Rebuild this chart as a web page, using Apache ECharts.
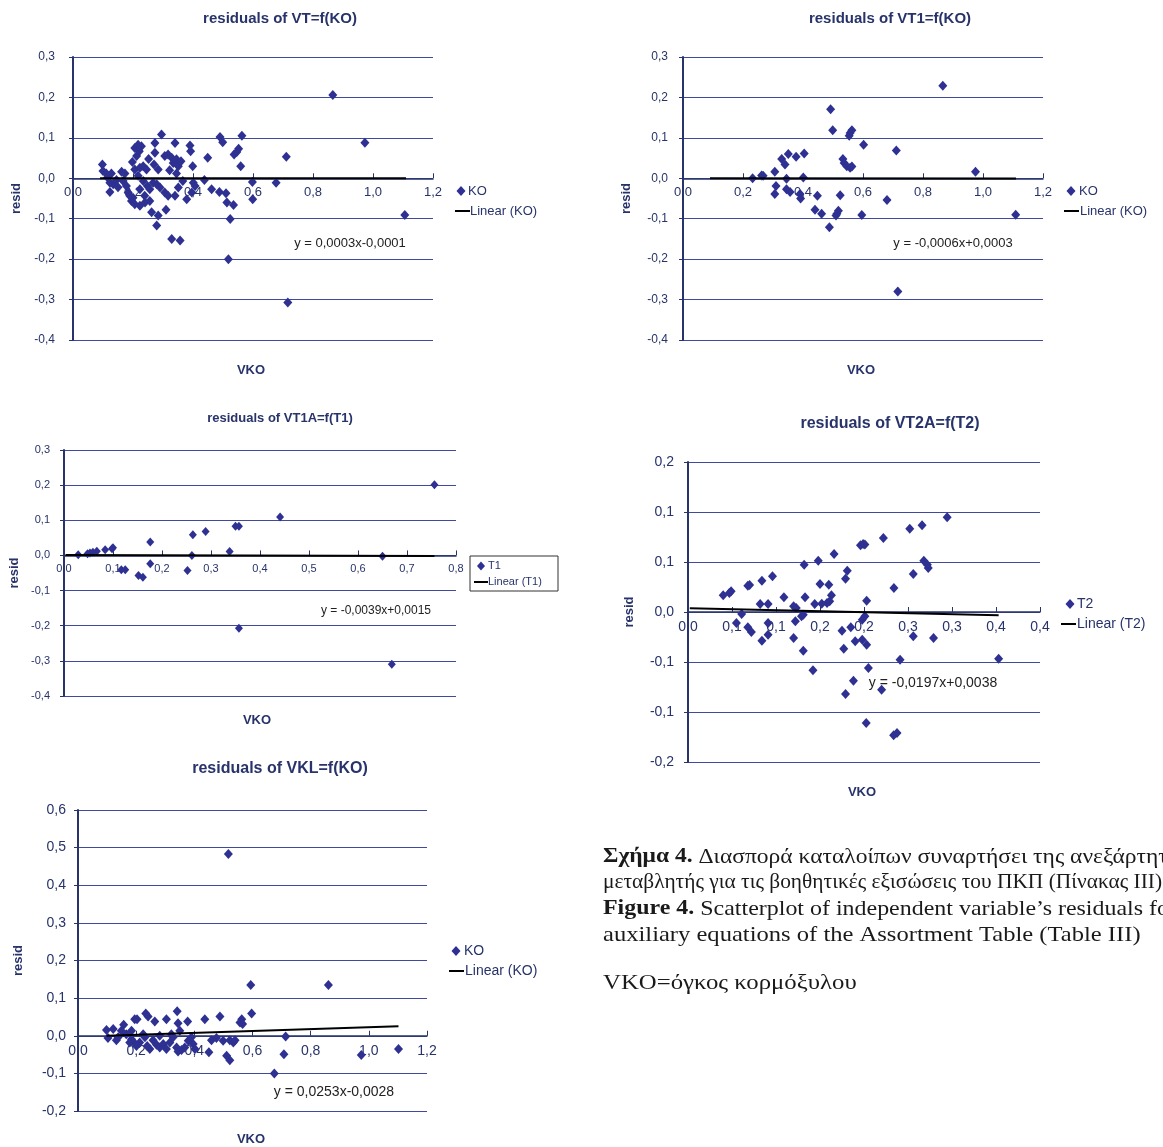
<!DOCTYPE html>
<html>
<head>
<meta charset="utf-8">
<script src="https://cdn.jsdelivr.net/npm/echarts@6/dist/echarts.min.js"></script>
<style>
  html, body { margin: 0; padding: 0; background: #ffffff; }
  #chart { width: 1163px; height: 1147px; }
</style>
</head>
<body>
<div id="chart"></div>
<script>
// ---------- residuals (x = independent variable, y = residual) ----------
const vtKO = [
  [0.098,0.034],[0.100,0.018],[0.111,0.012],[0.128,0.012],[0.123,-0.011],[0.134,-0.015],[0.123,-0.034],
  [0.162,0.016],[0.173,0.012],[0.167,-0.007],[0.178,-0.019],[0.184,-0.035],[0.189,-0.043],[0.195,-0.056],
  [0.206,-0.064],[0.223,-0.068],[0.206,0.075],[0.217,0.083],[0.228,0.079],[0.212,0.055],[0.221,0.067],
  [0.206,0.022],[0.223,0.026],[0.234,0.030],[0.245,0.022],[0.217,0.006],[0.234,-0.007],[0.248,-0.019],
  [0.256,-0.027],[0.267,-0.011],[0.279,-0.015],[0.239,-0.043],[0.223,-0.027],[0.256,-0.056],[0.262,-0.084],
  [0.284,-0.092],[0.279,-0.117],[0.310,-0.078],[0.273,0.087],[0.273,0.063],[0.270,0.034],[0.284,0.022],
  [0.295,0.108],[0.306,0.055],[0.317,0.059],[0.329,0.051],[0.334,0.038],[0.345,0.047],[0.340,0.087],
  [0.351,0.030],[0.345,0.012],[0.306,-0.035],[0.317,-0.043],[0.340,-0.043],[0.351,-0.023],[0.290,-0.023],
  [0.329,-0.150],[0.357,-0.154],[0.366,-0.007],[0.379,-0.052],[0.390,0.081],[0.392,0.067],[0.399,0.030],
  [0.401,-0.011],[0.407,-0.019],[0.396,-0.035],[0.438,-0.004],[0.449,0.051],[0.462,-0.027],[0.488,-0.034],
  [0.510,-0.037],[0.513,-0.060],[0.535,-0.066],[0.490,0.102],[0.499,0.089],[0.524,-0.101],[0.518,-0.200],
  [0.537,0.059],[0.546,0.065],[0.552,0.073],[0.559,0.030],[0.563,0.105],[0.598,-0.009],[0.599,-0.052],
  [0.677,-0.011],[0.711,0.053],[0.716,-0.307],[0.866,0.206],[0.973,0.088],[1.106,-0.091],[0.145,-0.004],
  [0.115,0.002],[0.198,0.040],[0.252,0.048],[0.322,0.020],[0.360,0.042],[0.200,-0.048],[0.150,-0.022],
  [0.240,-0.060]
];

const vt1KO = [
  [0.866,0.229],[0.492,0.171],[0.499,0.119],[0.563,0.119],[0.557,0.112],[0.554,0.105],[0.602,0.083],
  [0.711,0.069],[0.975,0.016],[1.109,-0.090],[0.716,-0.280],[0.680,-0.054],[0.596,-0.091],[0.524,-0.042],
  [0.518,-0.080],[0.513,-0.088],[0.510,-0.092],[0.488,-0.121],[0.462,-0.088],[0.440,-0.078],[0.448,-0.043],
  [0.533,0.048],[0.537,0.038],[0.546,0.030],[0.557,0.026],[0.563,0.029],[0.404,0.061],[0.377,0.053],
  [0.351,0.060],[0.329,0.048],[0.340,0.034],[0.306,0.016],[0.262,0.007],[0.232,0.000],[0.267,0.006],
  [0.345,-0.001],[0.401,0.002],[0.310,-0.019],[0.306,-0.039],[0.345,-0.027],[0.357,-0.034],[0.390,-0.039],
  [0.392,-0.050]
];

const vt1aT1 = [
  [0.029,0.002],[0.048,0.005],[0.053,0.007],[0.059,0.009],[0.067,0.012],[0.084,0.016],[0.098,0.019],
  [0.100,0.022],[0.117,-0.041],[0.125,-0.041],[0.152,-0.057],[0.161,-0.062],[0.176,0.038],[0.176,-0.024],
  [0.252,-0.043],[0.261,0.000],[0.263,0.059],[0.289,0.068],[0.338,0.011],[0.350,0.083],[0.357,0.083],
  [0.357,-0.207],[0.441,0.109],[0.650,-0.002],[0.669,-0.310],[0.756,0.201]
];

const vt2aT2 = [
  [0.2945,0.0947],[0.266,0.0867],[0.252,0.0833],[0.222,0.074],[0.199,0.068],[0.196,0.0667],[0.201,0.0675],
  [0.166,0.058],[0.148,0.0513],[0.132,0.0473],[0.096,0.0357],[0.084,0.0313],[0.068,0.0263],[0.070,0.027],
  [0.049,0.0207],[0.047,0.019],[0.040,0.0167],[0.268,0.0513],[0.272,0.0473],[0.273,0.044],[0.256,0.038],
  [0.234,0.024],[0.181,0.0413],[0.179,0.0333],[0.160,0.0273],[0.150,0.028],[0.163,0.0167],[0.161,0.0107],
  [0.158,0.009],[0.152,0.0083],[0.133,0.0147],[0.109,0.0147],[0.082,0.008],[0.091,0.008],[0.120,0.0057],
  [0.123,0.004],[0.144,0.008],[0.203,0.0113],[0.061,-0.002],[0.055,-0.011],[0.068,-0.0153],[0.072,-0.020],
  [0.084,-0.0287],[0.091,-0.011],[0.091,-0.0227],[0.122,-0.0093],[0.129,-0.0043],[0.131,-0.0027],
  [0.120,-0.026],[0.131,-0.0387],[0.142,-0.0583],[0.175,-0.0187],[0.185,-0.0153],[0.198,-0.0077],
  [0.201,-0.0043],[0.177,-0.0367],[0.190,-0.0293],[0.198,-0.0277],[0.203,-0.0327],[0.205,-0.056],
  [0.188,-0.0687],[0.179,-0.082],[0.220,-0.0777],[0.2025,-0.111],[0.2337,-0.1233],[0.2375,-0.121],
  [0.241,-0.0477],[0.256,-0.0243],[0.279,-0.026],[0.353,-0.0467]
];

const vklKO = [
  [0.517,0.483],[0.594,0.135],[0.861,0.135],[0.597,0.059],[0.563,0.044],[0.557,0.035],[0.566,0.031],
  [0.488,0.051],[0.436,0.044],[0.377,0.038],[0.341,0.065],[0.344,0.033],[0.304,0.044],[0.264,0.038],
  [0.233,0.059],[0.241,0.051],[0.195,0.044],[0.203,0.044],[0.157,0.029],[0.121,0.018],[0.098,0.015],
  [0.103,-0.006],[0.132,-0.012],[0.166,0.004],[0.184,-0.009],[0.195,-0.020],[0.212,-0.018],[0.230,-0.004],
  [0.238,-0.027],[0.258,-0.012],[0.270,-0.024],[0.281,-0.031],[0.293,-0.022],[0.304,-0.035],[0.316,-0.018],
  [0.327,-0.004],[0.339,-0.031],[0.344,-0.042],[0.356,-0.038],[0.367,-0.031],[0.379,-0.013],[0.390,-0.004],
  [0.396,-0.022],[0.402,-0.035],[0.450,-0.044],[0.459,-0.012],[0.476,-0.006],[0.499,-0.013],[0.522,-0.012],
  [0.534,-0.018],[0.540,-0.012],[0.511,-0.053],[0.522,-0.065],[0.675,-0.100],[0.708,-0.049],[0.714,-0.002],
  [0.974,-0.051],[1.102,-0.035],[0.149,0.013],[0.184,0.013],[0.224,0.004],[0.281,0.000],[0.321,0.004],
  [0.350,0.013],[0.247,-0.035],[0.201,-0.027],[0.178,-0.018],[0.138,-0.004]
];

// ---------- linear trend lines: [slope, intercept] and x extent ----------
const fitVT   = [0.0003, -0.0001];
const fitVT1  = [-0.0006, 0.0003];
const fitVT1A = [-0.0039, 0.0015];
const fitVT2A = [-0.0197, 0.0038];
const fitVKL  = [0.0253, -0.0028];

const spanVT   = [0.09, 1.11];
const spanVT1  = [0.09, 1.11];
const spanVT1A = [0.003, 0.756];
const spanVT2A = [0.002, 0.353];
const spanVKL  = [0.098, 1.102];

// ---------- tick labels ----------
const ticksX12   = ['0,0','0,2','0,4','0,6','0,8','1,0','1,2'];
const ticksX08   = ['0,0','0,1','0,2','0,3','0,4','0,5','0,6','0,7','0,8'];
const ticksXT2   = ['0,0','0,1','0,1','0,2','0,2','0,3','0,3','0,4','0,4'];
const ticksYres  = ['-0,4','-0,3','-0,2','-0,1','0,0','0,1','0,2','0,3'];
const ticksYT2   = ['-0,2','-0,1','-0,1','0,0','0,1','0,1','0,2'];
const ticksYKL   = ['-0,2','-0,1','0,0','0,1','0,2','0,3','0,4','0,5','0,6'];

// ---------- styling ----------
const SANS = 'Liberation Sans, Arial, sans-serif';
const SERIF = 'Liberation Serif, Times New Roman, serif';
const NAVY = '#27336a';
const MARK = '#2e3192';
const GRIDC = '#4049a0';

const panels = [
  { title: 'residuals of VT=f(KO)', titlePos: [280, 19], titleSize: 15,
    pts: vtKO, fit: fitVT, span: spanVT, key: 'KO',
    grid: { left: 73, top: 57, width: 360, height: 283 },
    x: { min: 0, max: 1.2, step: 0.2, labels: ticksX12, size: 13 },
    y: { min: -0.4, max: 0.3, step: 0.1, labels: ticksYres, size: 12, margin: 18 },
    nameGap: 50, xName: [251, 370], eq: [350, 243, 13],
    legend: { dx: 461, dy: 191, lx: [455, 470], ly: 211, tx: 468, tx2: 470, size: 13 },
    sym: [9, 10] },
  { title: 'residuals of VT1=f(KO)', titlePos: [890, 19], titleSize: 15,
    pts: vt1KO, fit: fitVT1, span: spanVT1, key: 'KO',
    grid: { left: 683, top: 57, width: 360, height: 283 },
    x: { min: 0, max: 1.2, step: 0.2, labels: ticksX12, size: 13 },
    y: { min: -0.4, max: 0.3, step: 0.1, labels: ticksYres, size: 12, margin: 15 },
    nameGap: 50, xName: [861, 370], eq: [953, 243, 13],
    legend: { dx: 1071, dy: 191, lx: [1064, 1079], ly: 211, tx: 1079, tx2: 1080, size: 13 },
    sym: [9, 10] },
  { title: 'residuals of VT1A=f(T1)', titlePos: [280, 418], titleSize: 13,
    pts: vt1aT1, fit: fitVT1A, span: spanVT1A, key: 'T1',
    grid: { left: 64, top: 450, width: 392, height: 246 },
    x: { min: 0, max: 0.8, step: 0.1, labels: ticksX08, size: 11 },
    y: { min: -0.4, max: 0.3, step: 0.1, labels: ticksYres, size: 11, margin: 14 },
    nameGap: 43, xName: [257, 720], eq: [376, 611, 12],
    legend: { dx: 481, dy: 566, lx: [474, 488], ly: 582, tx: 488, tx2: 488, size: 11,
              box: [470, 556, 88, 35] },
    sym: [8, 9] },
  { title: 'residuals of VT2A=f(T2)', titlePos: [890, 424], titleSize: 16,
    pts: vt2aT2, fit: fitVT2A, span: spanVT2A, key: 'T2',
    grid: { left: 688, top: 462, width: 352, height: 300 },
    x: { min: 0, max: 0.4, step: 0.05, labels: ticksXT2, size: 14 },
    y: { min: -0.15, max: 0.15, step: 0.05, labels: ticksYT2, size: 14, margin: 14 },
    nameGap: 52, xName: [862, 792], eq: [933, 683, 14],
    legend: { dx: 1070, dy: 604, lx: [1061, 1076], ly: 624, tx: 1077, tx2: 1077, size: 14 },
    sym: [9, 10] },
  { title: 'residuals of VKL=f(KO)', titlePos: [280, 769], titleSize: 16,
    pts: vklKO, fit: fitVKL, span: spanVKL, key: 'KO',
    grid: { left: 78, top: 810, width: 349, height: 301 },
    x: { min: 0, max: 1.2, step: 0.2, labels: ticksX12, size: 14 },
    y: { min: -0.2, max: 0.6, step: 0.1, labels: ticksYKL, size: 14, margin: 12 },
    nameGap: 53, xName: [251, 1139], eq: [334, 1092, 14],
    legend: { dx: 456, dy: 951, lx: [449, 464], ly: 971, tx: 464, tx2: 465, size: 14 },
    sym: [9, 10] }
];

const coef = v => v.toFixed(4).replace('.', ',');
const eqText = f => 'y = ' + coef(f[0]) + 'x' + (f[1] < 0 ? '' : '+') + coef(f[1]);
const pick = (labels, min, step) => v => {
  const s = labels[Math.round((v - min) / step)];
  return s === undefined ? '' : s;
};

const grids = [], xAxes = [], yAxes = [], series = [], graphics = [];

panels.forEach((p, i) => {
  grids.push(Object.assign({ containLabel: false }, p.grid));

  // the horizontal axis crosses the vertical one at residual 0
  const zeroLift = p.grid.height * (0 - p.y.min) / (p.y.max - p.y.min);
  xAxes.push({
    gridIndex: i, type: 'value', min: p.x.min, max: p.x.max, interval: p.x.step,
    position: 'bottom', offset: -zeroLift,
    axisLine: { show: true, onZero: false, lineStyle: { color: NAVY, width: 1.5 } },
    axisTick: { show: true, inside: true, length: 5, lineStyle: { color: NAVY, width: 1 } },
    axisLabel: { formatter: pick(p.x.labels, p.x.min, p.x.step), color: NAVY,
                 fontFamily: SANS, fontSize: p.x.size, margin: 8,
                 showMinLabel: true, showMaxLabel: true },
    splitLine: { show: false }
  });

  yAxes.push({
    gridIndex: i, type: 'value', min: p.y.min, max: p.y.max, interval: p.y.step,
    name: 'resid', nameLocation: 'middle', nameRotate: 90, nameGap: p.nameGap,
    nameTextStyle: { color: NAVY, fontFamily: SANS, fontWeight: 'bold', fontSize: 13 },
    axisLine: { show: true, onZero: false, lineStyle: { color: NAVY, width: 2 } },
    axisTick: { show: true, length: 4, lineStyle: { color: NAVY } },
    axisLabel: { formatter: pick(p.y.labels, p.y.min, p.y.step), color: NAVY,
                 fontFamily: SANS, fontSize: p.y.size, margin: p.y.margin,
                 showMinLabel: true, showMaxLabel: true },
    splitLine: { show: true, lineStyle: { color: GRIDC, width: 1 } }
  });

  series.push({
    type: 'scatter', name: p.key, xAxisIndex: i, yAxisIndex: i,
    data: p.pts, symbol: 'diamond', symbolSize: p.sym,
    itemStyle: { color: MARK, opacity: 1 }, z: 3, silent: true
  });

  const fx = x => p.fit[0] * x + p.fit[1];
  series.push({
    type: 'line', name: 'Linear (' + p.key + ')', xAxisIndex: i, yAxisIndex: i,
    data: p.span.map(x => [x, fx(x)]), symbol: 'none',
    lineStyle: { color: '#000000', width: 2 }, z: 4, silent: true
  });

  // panel title
  graphics.push({ type: 'text', x: p.titlePos[0], y: p.titlePos[1], silent: true,
    style: { text: p.title, textAlign: 'center', textVerticalAlign: 'middle',
             font: 'bold ' + p.titleSize + 'px ' + SANS, fill: NAVY } });
  // x-axis title
  graphics.push({ type: 'text', x: p.xName[0], y: p.xName[1], silent: true,
    style: { text: 'VKO', textAlign: 'center', textVerticalAlign: 'middle',
             font: 'bold 13px ' + SANS, fill: NAVY } });
  // trend equation
  graphics.push({ type: 'text', x: p.eq[0], y: p.eq[1], silent: true,
    style: { text: eqText(p.fit), textAlign: 'center', textVerticalAlign: 'middle',
             font: p.eq[2] + 'px ' + SANS, fill: '#222222' } });

  // legend
  const L = p.legend;
  if (L.box) {
    graphics.push({ type: 'rect', silent: true,
      shape: { x: L.box[0], y: L.box[1], width: L.box[2], height: L.box[3] },
      style: { fill: '#ffffff', stroke: '#333333', lineWidth: 1 } });
  }
  const h = p.sym[1] / 2, w = p.sym[0] / 2;
  graphics.push({ type: 'polygon', silent: true,
    shape: { points: [[L.dx, L.dy - h], [L.dx + w, L.dy], [L.dx, L.dy + h], [L.dx - w, L.dy]] },
    style: { fill: MARK } });
  graphics.push({ type: 'text', x: L.tx, y: L.dy, silent: true,
    style: { text: p.key, textVerticalAlign: 'middle', font: L.size + 'px ' + SANS, fill: NAVY } });
  graphics.push({ type: 'line', silent: true,
    shape: { x1: L.lx[0], y1: L.ly, x2: L.lx[1], y2: L.ly },
    style: { stroke: '#000000', lineWidth: 2 } });
  graphics.push({ type: 'text', x: L.tx2, y: L.ly, silent: true,
    style: { text: 'Linear (' + p.key + ')', textVerticalAlign: 'middle',
             font: L.size + 'px ' + SANS, fill: NAVY } });
});

// figure caption (each line stretched horizontally to the printed width)
const captionLines = [
  { y: 857, sx: 1.12, text: '{b|Σχήμα 4.} Διασπορά καταλοίπων συναρτήσει της ανεξάρτητης' },
  { y: 882, sx: 1.02, text: 'μεταβλητής για τις βοηθητικές εξισώσεις του ΠΚΠ (Πίνακας ΙΙΙ)' },
  { y: 909, sx: 1.14, text: '{b|Figure 4.} Scatterplot of independent variable’s residuals for the' },
  { y: 935, sx: 1.17, text: 'auxiliary equations of the Assortment Table (Table III)' },
  { y: 983, sx: 1.18, text: 'VKO=όγκος κορμόξυλου' }
];
captionLines.forEach(c => {
  graphics.push({ type: 'text', x: 603, y: c.y, scaleX: c.sx, silent: true,
    style: { text: c.text, textVerticalAlign: 'middle',
             font: '21px ' + SERIF, fill: '#1a1a1a',
             rich: { b: { fontWeight: 'bold', fontSize: 21, fontFamily: SERIF, fill: '#1a1a1a' } } } });
});

const chart = echarts.init(document.getElementById('chart'), null, { renderer: 'canvas' });
chart.setOption({
  backgroundColor: '#ffffff',
  animation: false,
  grid: grids,
  xAxis: xAxes,
  yAxis: yAxes,
  series: series,
  graphic: graphics
});
</script>
</body>
</html>
